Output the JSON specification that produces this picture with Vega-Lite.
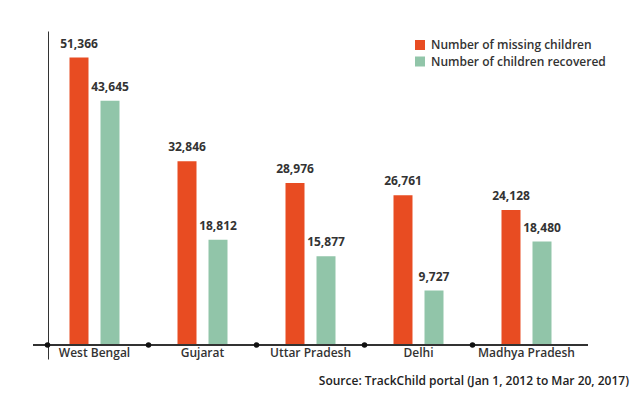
{
  "$schema": "https://vega.github.io/schema/vega-lite/v6.json",
  "width": 555,
  "height": 328,
  "autosize": {"type": "none"},
  "padding": {"left": 33, "top": 31, "right": 52, "bottom": 39},
  "background": "white",
  "config": {
    "view": {"stroke": null},
    "font": "Open Sans"
  },
  "title": {
    "text": "Source: TrackChild portal (Jan 1, 2012 to Mar 20, 2017)",
    "orient": "bottom",
    "anchor": "end",
    "dx": 23,
    "offset": 17,
    "fontSize": 12,
    "fontWeight": 600,
    "color": "#222222",
    "font": "Open Sans"
  },
  "datasets": {
    "bars": [
      {"state": "West Bengal", "series": "Number of missing children", "value": 51366},
      {"state": "West Bengal", "series": "Number of children recovered", "value": 43645},
      {"state": "Gujarat", "series": "Number of missing children", "value": 32846},
      {"state": "Gujarat", "series": "Number of children recovered", "value": 18812},
      {"state": "Uttar Pradesh", "series": "Number of missing children", "value": 28976},
      {"state": "Uttar Pradesh", "series": "Number of children recovered", "value": 15877},
      {"state": "Delhi", "series": "Number of missing children", "value": 26761},
      {"state": "Delhi", "series": "Number of children recovered", "value": 9727},
      {"state": "Madhya Pradesh", "series": "Number of missing children", "value": 24128},
      {"state": "Madhya Pradesh", "series": "Number of children recovered", "value": 18480}
    ],
    "dots": [
      {"state": "Gujarat"},
      {"state": "Uttar Pradesh"},
      {"state": "Delhi"},
      {"state": "Madhya Pradesh"}
    ],
    "origin": [{"state": "West Bengal"}]
  },
  "layer": [
    {
      "data": {"name": "bars"},
      "mark": {"type": "bar"},
      "encoding": {
        "x": {
          "field": "state",
          "type": "nominal",
          "scale": {
            "domain": ["West Bengal", "Gujarat", "Uttar Pradesh", "Delhi", "Madhya Pradesh"],
            "paddingInner": 0.537,
            "paddingOuter": 0.338
          },
          "axis": {
            "title": null,
            "domain": false,
            "ticks": false,
            "labelAngle": 0,
            "labelPadding": -12,
            "labelFontSize": 12,
            "labelFontWeight": 600,
            "labelColor": "#333333",
            "labelFont": "Open Sans"
          }
        },
        "xOffset": {
          "field": "series",
          "type": "nominal",
          "sort": ["Number of missing children", "Number of children recovered"],
          "scale": {"paddingInner": 0.387, "paddingOuter": 0}
        },
        "y": {
          "field": "value",
          "type": "quantitative",
          "scale": {"domain": [-2500, 56120], "nice": false, "zero": false},
          "axis": {
            "title": null,
            "labels": false,
            "ticks": false,
            "grid": false,
            "domain": true,
            "domainColor": "#333333",
            "domainWidth": 1,
            "offset": -15
          }
        },
        "color": {
          "field": "series",
          "type": "nominal",
          "scale": {
            "domain": ["Number of missing children", "Number of children recovered"],
            "range": ["#e84c22", "#91c5a9"]
          },
          "legend": {
            "title": null,
            "orient": "none",
            "legendX": 381,
            "legendY": 8,
            "symbolType": "square",
            "symbolSize": 100,
            "symbolStrokeWidth": 0,
            "labelFontSize": 12,
            "labelFontWeight": 600,
            "labelColor": "#333333",
            "labelFont": "Open Sans",
            "labelOffset": 5,
            "labelLimit": 0,
            "rowPadding": 4.5
          }
        }
      }
    },
    {
      "data": {"name": "bars"},
      "mark": {"type": "text", "baseline": "bottom", "dy": -7, "fontSize": 12, "fontWeight": 700, "color": "#333333", "font": "Open Sans"},
      "encoding": {
        "x": {"field": "state", "type": "nominal"},
        "xOffset": {"field": "series", "type": "nominal", "sort": ["Number of missing children", "Number of children recovered"]},
        "y": {"field": "value", "type": "quantitative"},
        "text": {"field": "value", "type": "quantitative", "format": ","}
      }
    },
    {
      "data": {"name": "bars"},
      "mark": {"type": "rule", "color": "#333333", "strokeWidth": 1},
      "encoding": {
        "y": {"datum": 0}
      }
    },
    {
      "data": {"name": "dots"},
      "mark": {"type": "point", "filled": true, "size": 30, "color": "#111111", "opacity": 1},
      "encoding": {
        "x": {"field": "state", "type": "nominal", "bandPosition": -0.58},
        "y": {"datum": 0}
      }
    },
    {
      "data": {"name": "origin"},
      "mark": {"type": "point", "filled": true, "size": 30, "color": "#111111", "opacity": 1},
      "encoding": {
        "x": {"field": "state", "type": "nominal", "bandPosition": -0.44},
        "y": {"datum": 0}
      }
    }
  ]
}
